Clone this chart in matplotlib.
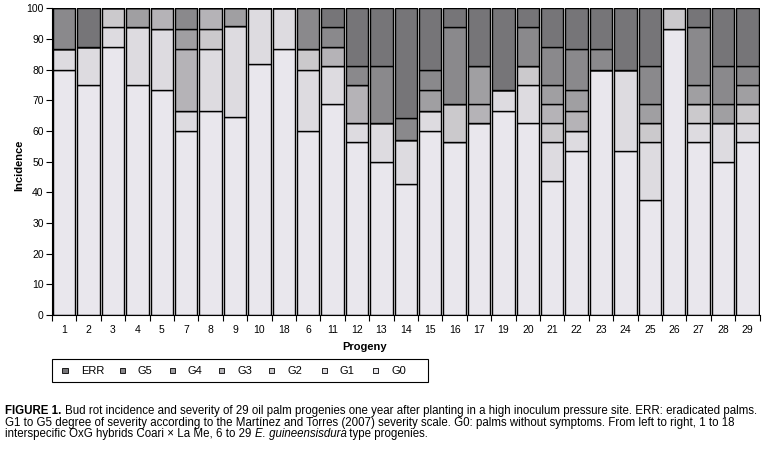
import matplotlib
matplotlib.use("Agg")
import matplotlib.pyplot as plt
from matplotlib.patches import Rectangle
import numpy as np

plt.rcParams['font.family'] = ['Liberation Sans Narrow', 'Liberation Sans', 'DejaVu Sans']

progeny = ['1', '2', '3', '4', '5', '7', '8', '9', '10', '18', '6', '11', '12', '13', '14',
           '15', '16', '17', '19', '20', '21', '22', '23', '24', '25', '26', '27', '28', '29']

G0 = [80, 75, 87.5, 75, 73.33, 60, 66.67, 64.71, 81.82, 86.67, 60, 68.75, 56.25, 50, 42.86,
      60, 56.25, 62.5, 66.67, 62.5, 43.75, 53.33, 80, 53.33, 37.5, 93.33, 56.25, 50, 56.25]
G1 = [6.67, 12.5, 6.25, 18.75, 20, 6.67, 20, 29.41, 18.18, 13.33, 20, 12.5, 6.25, 12.5, 14.29,
      6.67, 0, 0, 6.67, 12.5, 12.5, 6.67, 0, 26.67, 18.75, 0, 6.25, 12.5, 6.25]
G2 = [0, 0, 6.25, 0, 0, 0, 6.67, 0, 0, 0, 6.67, 0, 0, 0, 0,
      0, 12.5, 0, 0, 6.25, 6.25, 0, 0, 0, 6.25, 6.67, 6.25, 0, 6.25]
G3 = [0, 0, 0, 0, 6.67, 20, 6.67, 0, 0, 0, 0, 6.25, 12.5, 0, 0,
      0, 0, 6.25, 0, 0, 6.25, 6.67, 0, 0, 0, 0, 0, 0, 0]
G4 = [0, 0, 0, 6.25, 0, 6.67, 0, 5.88, 0, 0, 0, 0, 0, 0, 0,
      6.67, 0, 12.5, 0, 0, 6.25, 6.67, 0, 0, 6.25, 0, 6.25, 6.25, 6.25]
G5 = [13.33, 0, 0, 0, 0, 6.67, 0, 0, 0, 0, 13.33, 6.25, 6.25, 18.75, 7.14,
      6.67, 25, 0, 0, 12.5, 12.5, 13.33, 6.67, 0, 12.5, 0, 18.75, 12.5, 6.25]
ERR = [0, 12.5, 0, 0, 0, 0, 0, 0, 0, 0, 0, 6.25, 18.75, 18.75, 35.71,
       20, 6.25, 18.75, 26.67, 6.25, 12.5, 13.33, 13.33, 20, 18.75, 0, 6.25, 18.75, 18.75]

series_names = ['G0', 'G1', 'G2', 'G3', 'G4', 'G5', 'ERR']
series_vals = [G0, G1, G2, G3, G4, G5, ERR]
colors = {'G0': '#e9e7ed', 'G1': '#dddbe0', 'G2': '#cbc9cc', 'G3': '#b5b3b7',
          'G4': '#a09fa2', 'G5': '#8a898c', 'ERR': '#767578'}

fig = plt.figure(figsize=(7.69, 4.49), dpi=100)
ax = fig.add_axes([52/769, 134/449, 707.6/769, 306.7/449])

x = np.arange(len(progeny))
bottom = np.zeros(len(progeny))
for name, vals in zip(series_names, series_vals):
    v = np.array(vals, dtype=float)
    ax.bar(x, v, bottom=bottom, width=0.92, color=colors[name], edgecolor='black',
           linewidth=1.0, zorder=2)
    bottom += v

ax.set_xlim(-0.5, len(progeny) - 0.5)
ax.set_ylim(0, 100)
ax.set_yticks(np.arange(0, 101, 10))
ax.tick_params(axis='y', labelsize=7.5, length=4, width=0.8, pad=2, colors='black')
ax.set_xticks(np.arange(-0.5, len(progeny), 1.0))
ax.set_xticklabels([])
ax.tick_params(axis='x', length=4, width=0.8, direction='out')
for i, lab in enumerate(progeny):
    ax.text(i, -3.2, lab, ha='center', va='top', fontsize=7.5, transform=ax.transData)
for s in ['top', 'right']:
    ax.spines[s].set_visible(False)
ax.spines['left'].set_linewidth(0.8)
ax.spines['bottom'].set_linewidth(0.8)

fig.text(19/769, 1 - 165/449, 'Incidence', rotation=90, ha='center', va='center',
         fontsize=8, fontweight='bold')
fig.text(365/769, 1 - 347/449, 'Progeny', ha='center', va='center',
         fontsize=8, fontweight='bold')

# legend box
fig.patches.append(Rectangle((52/769, 1 - 382/449), 376/769, 23/449, transform=fig.transFigure,
                             fill=False, edgecolor='black', linewidth=0.8))
leg_order = ['ERR', 'G5', 'G4', 'G3', 'G2', 'G1', 'G0']
leg_x = [65, 122, 172, 221, 271, 324, 375]
for name, lx in zip(leg_order, leg_x):
    fig.patches.append(Rectangle(((lx - 2.5)/769, 1 - 373/449), 5/769, 5/449,
                                 transform=fig.transFigure, facecolor=colors[name],
                                 edgecolor='black', linewidth=0.6))
    fig.text((lx + 16)/769, 1 - 370.5/449, name, ha='left', va='center', fontsize=8)

# caption
fig.canvas.draw()
renderer = fig.canvas.get_renderer()

def style_kw(style):
    if style == 'b':
        return {'fontweight': 'bold'}
    if style == 'i':
        return {'fontstyle': 'italic'}
    return {}

def measure(parts, size):
    total = 0
    for txt, style in parts:
        t = fig.text(0, 0, txt, fontsize=size, **style_kw(style))
        total += t.get_window_extent(renderer=renderer).width
        t.remove()
    return total

def write_line(parts, x0, y0, size):
    xpos = x0
    for txt, style in parts:
        t = fig.text(xpos/769, 1 - y0/449, txt, ha='left', va='center', fontsize=size,
                     **style_kw(style))
        xpos += t.get_window_extent(renderer=renderer).width

line1 = [('FIGURE 1. ', 'b'),
         ('Bud rot incidence and severity of 29 oil palm progenies one year after planting in a high inoculum pressure site. ERR: eradicated palms.', '')]
line2 = [('G1 to G5 degree of severity according to the Martínez and Torres (2007) severity scale. G0: palms without symptoms. From left to right, 1 to 18', '')]
line3 = [('interspecific OxG hybrids Coari \u00d7 La Me, 6 to 29 ', ''), ('E. guineensisdura', 'i'),
         (' type progenies.', '')]

base = 8.6
w1 = measure(line1, base)
size = min(base, base * 745.0 / w1)

write_line(line1, 5, 411, size)
write_line(line2, 5, 423, size)
write_line(line3, 5, 434.5, size)

fig.savefig('out.png', dpi=100)
